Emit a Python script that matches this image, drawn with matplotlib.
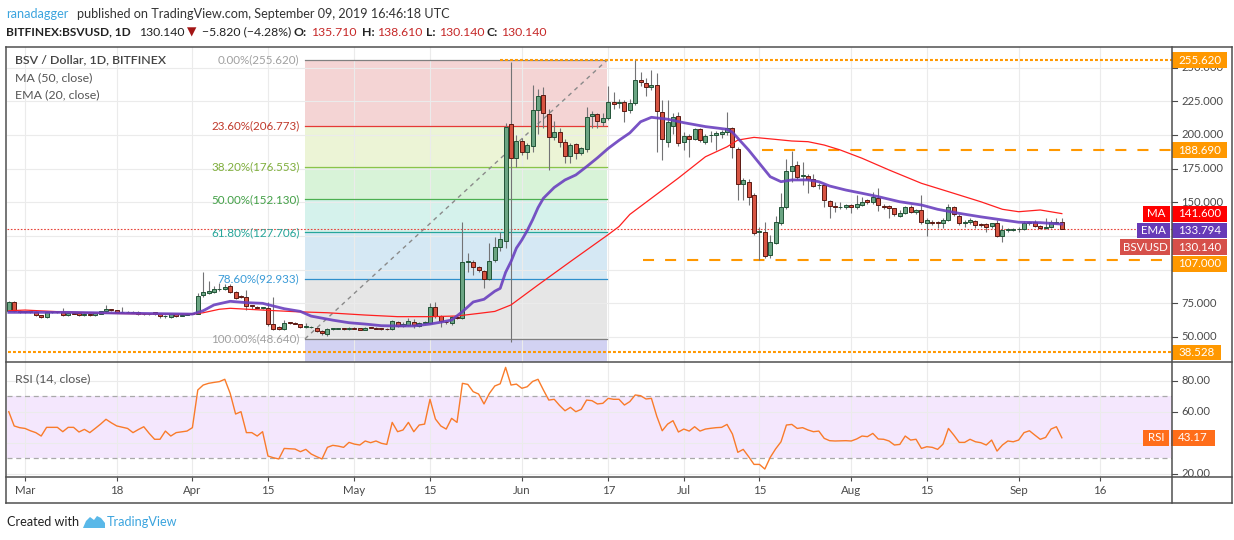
import datetime as dt

import matplotlib
import matplotlib.pyplot as plt
import matplotlib.dates as mdates
from matplotlib.lines import Line2D
from matplotlib.patches import Rectangle, Polygon
import numpy as np

matplotlib.use('Agg')
plt.rcParams['font.family'] = ['Lato', 'DejaVu Sans']

# ---- daily candles, BITFINEX:BSVUSD, 2019-02-26 .. 2019-09-09 (one row per month)
opens = [
    69.5, 76, 69.5,
    69, 68.7, 68.5, 66.3, 64.6, 68.3, 68.8, 68.3, 66.1, 67.8, 67.8, 66.1, 67.3, 66.1, 67.3, 69, 70.5, 70,
    68.5, 68.8, 68.5, 68.3, 67, 66.8, 68.3, 67, 65.3, 64.6, 67, 65.5, 66.5,
    67, 67.3, 81, 83, 83.7, 85.3, 85.4, 87.9, 83.7, 80.2, 80, 73.5, 72.5, 71.8, 71.8, 59.4, 57.7, 55.7,
    60.8, 60.5, 59.4, 57.5, 57.2, 56.9, 54.7, 52.5, 55.8, 56.3, 56.5, 55.7,
    56.8, 56.5, 55.5, 57.2, 57, 56.5, 56.2, 55.7, 61.4, 58.3, 59, 61.4, 58.2, 60.5, 60.2, 72, 65.6, 61.5,
    60.2, 64.8, 63.9, 105.5, 105.5, 101.8, 99.3, 93.1, 107.2, 117, 121.5, 208, 182.7,
    195.6, 187.6, 192, 218.5, 229.7, 215.3, 198.5, 202, 195, 184.4, 193, 186.4, 189.6, 213.8, 215.3,
    209.4, 212.3, 224.7, 223.7, 224.7, 218.5, 223.5, 241, 238.3, 235.8, 237, 216.8, 195, 206.6, 214,
    194.6, 199.3, 197.3, 204.2, 195, 199.7, 199.7, 200.6, 202, 205, 189.5, 163.4, 165.3, 155.4, 128,
    128.2, 110.9, 120, 134.9, 146.3, 173.5, 177.7, 169.5, 169.5, 167.1, 162.5, 162.8, 151, 147.2, 146.3,
    146.3,
    148, 146.3, 148.2, 151.7, 150.4, 153, 147.5, 147.5, 145.5, 140.1, 141.8, 146.8, 142.6, 144.3, 134.4,
    135.6, 135.2, 134.4, 136.9, 146.3, 140, 135, 135.2, 136.4, 134, 134, 132.4, 134.4, 125.2, 129.2, 129.8,
    129.9, 130.2, 134.8, 135.6, 132.4, 131.2, 131.5, 134.4, 135.71,
]
highs = [
    77, 76.5, 70,
    69.5, 69.5, 69, 66.5, 68.5, 69.3, 69.3, 71.5, 68.5, 68.3, 68.3, 67.8, 67.5, 68, 69.5, 73.8, 71, 70.3,
    72, 69.3, 69, 69.5, 67.5, 67.5, 68.5, 67.3, 66, 67, 67.3, 67, 68,
    68, 83, 98, 91.8, 88, 90, 89, 89, 84, 81, 85, 74, 73, 72.5, 76.2, 79.7, 58, 62.6,
    61.5, 61, 60, 60.3, 58.5, 57.5, 55.5, 57, 57, 57, 57, 57.5,
    57.2, 57, 57.5, 57.5, 57.3, 56.8, 56.5, 62.5, 62, 61, 63.9, 63.5, 61.5, 62, 75.5, 76, 66, 62,
    65.5, 65.5, 135.6, 112, 107, 103, 100, 119.6, 124.6, 128.3, 208.7, 254.5, 200,
    198, 194, 237.4, 234.4, 235.8, 219, 210, 205, 197, 194, 194, 191, 221, 218, 216,
    216, 236.3, 231.7, 227, 226, 226.5, 255.6, 247, 242, 248, 246, 226, 226, 216, 217,
    202, 201, 205, 205.5, 201, 203, 203, 204, 217, 206, 191, 168, 167, 157, 131.9,
    135.6, 126, 139.8, 157, 181.8, 188.3, 181, 180, 171, 171, 164, 163.5, 152, 150, 150,
    149,
    149, 155.4, 154, 152.5, 158, 160.4, 149, 148, 146, 144, 147, 148, 145, 155.4, 138,
    137, 136, 138, 149, 147, 141, 137, 138, 137, 135, 134.5, 135, 137, 133, 131, 131,
    132, 136, 136, 136.5, 133, 138, 137, 138, 138.61,
]
lows = [
    69, 68.5, 68,
    68, 68, 65.5, 64, 64.3, 67.8, 67.8, 65.8, 65.8, 67, 65.8, 65.8, 65.8, 65.8, 67, 68.5, 69.5, 68,
    68, 68, 67.5, 66.5, 66.3, 66.3, 66.5, 64, 63.8, 64.3, 65.2, 65.3, 66.3,
    66.8, 67, 79.5, 82, 83, 84.5, 85, 82.5, 78.5, 79, 70, 71, 71.5, 71, 58.5, 55.2, 55, 55,
    59.8, 59.5, 56.8, 57, 56.5, 54, 51.5, 50.7, 55.5, 56, 55.5, 55.5,
    56, 55, 55.2, 56.5, 56, 55.5, 55.5, 55.5, 57.5, 57.5, 58.5, 57, 57.5, 59.5, 59.5, 64, 57.7, 60,
    59, 63.5, 63.5, 98.5, 96, 98, 86.1, 92, 106, 114, 115.8, 46, 176,
    185, 182, 187.6, 201, 205, 174, 196, 191, 179, 179, 182, 185, 187, 205, 205,
    207, 211, 219.5, 220, 209.8, 216, 222, 236, 229, 233, 187.6, 181.4, 191, 201, 192,
    188.8, 183.8, 196, 195, 193, 195, 188.8, 198, 200, 182.7, 151.7, 152, 148, 126, 107.2,
    109, 109, 119, 133, 145, 165, 167, 163, 156.7, 161, 160, 146.3, 138, 143, 145,
    145,
    141.8, 145, 147, 148.5, 149, 143.8, 145, 138, 140, 139, 141, 142, 141, 134, 125,
    133, 131, 131, 136, 140, 133, 132, 134, 131, 132, 128, 131, 124, 120.7, 128, 129,
    128, 129.5, 133, 132, 130.5, 130.5, 131, 134, 130.14,
]
closes = [
    76, 69, 68.8,
    68.7, 69, 66.2, 64.6, 68.3, 68.8, 68.3, 66.1, 67.8, 67.3, 66.1, 67.3, 66.1, 67.5, 69, 70.5, 70, 68.5,
    68.8, 68.3, 67.8, 66.8, 66.8, 67, 66.8, 65.3, 65.5, 66.8, 65.5, 66.5, 67,
    67.6, 80.4, 83.4, 84, 85.4, 85.8, 87.4, 83.7, 79, 79.6, 73, 72.8, 71.8, 72, 59.4, 55.7, 55.7, 60.2,
    60.3, 60, 57.2, 57.9, 57.4, 54.7, 52.7, 55.7, 56.5, 56.5, 56, 57,
    56.3, 55.5, 57, 56.8, 56.3, 55.7, 55.7, 61.9, 58.2, 59.5, 61.9, 58.8, 60.7, 61, 72, 65.6, 61.9, 61,
    65, 64.3, 106, 106.2, 101.8, 99.7, 93.1, 106.6, 117, 122.6, 206, 182.7, 195.6,
    187.6, 192.5, 218.5, 229, 216, 198.5, 202, 194.5, 184.4, 192.5, 186.4, 190, 213, 215.3, 210.3,
    212.3, 224.7, 222.8, 224.2, 217.8, 223.5, 240.8, 239, 235.8, 237, 218, 196.7, 209.4, 213, 193.8,
    199.3, 197.3, 204.2, 196.2, 199.3, 200.3, 201.2, 202.4, 205, 191, 163.4, 166.6, 154.2, 127.4, 128.4,
    110.4, 120.3, 135.2, 146.7, 173.2, 176.9, 168.5, 170, 167.1, 162.2, 163, 151.7, 147.2, 146.3, 146.6,
    148,
    146.3, 148.7, 150.4, 150, 153.6, 148, 146.7, 145.5, 141.1, 141.8, 146.3, 143, 144.3, 135.2, 136.9,
    135, 134.4, 136.9, 146.3, 141.1, 134.4, 135.6, 136.9, 133.1, 133.1, 131.5, 134.4, 125.2, 129.2, 130.2, 130,
    130.3, 134.4, 135.2, 132.4, 131.2, 131.5, 135.2, 135.6, 130.14,
]

# RSI (14, close), one value per candle
rsi = [
    60, 50.8, 49.7,
    49.2, 47.7, 46.5, 44.3, 49.9, 49.9, 49.9, 47.1, 49.9, 49.9, 46.9, 48.6, 46.5, 49.2, 52, 55.1,
    52.8, 50.8, 50, 49.2, 46.5, 48.5, 50.3, 46, 42.2, 42.2, 47.5, 44.3, 46.5, 47, 47.5,
    49.7, 74, 77.2, 78.3, 78.9, 79.4, 80.9, 71.8, 58.5, 60, 46.5, 46.5, 44.3, 47.1, 31.4, 30.3, 29.5,
    36.3, 36.1, 35.9, 34.2, 35.7, 32.7, 31, 29.5, 37, 38.3, 37.8, 37, 40.2,
    39.1, 38.5, 41.1, 40, 41.1, 39.6, 38.9, 53.1, 47.1, 48.2, 53.1, 47.1, 51.4, 52, 68, 55.3, 50.8,
    48.8, 55.7, 53.1, 78.3, 77.6, 72.9, 71.4, 65, 71.8, 76.6, 78, 88.6, 77.2, 77.8,
    75.1, 76.1, 79.5, 80.9, 74, 67.5, 68, 64, 60.6, 62.8, 60, 61.5, 67.5, 67.1, 65, 65.4, 68.6,
    68, 68, 64.3, 66.5, 70.8, 70.3, 68.2, 68.6, 57, 47.7, 52, 54.2, 46.9,
    48.8, 47.5, 50.3, 47.5, 48.8, 49.3, 49.7, 49.9, 51.8, 45.6, 33.8, 35.7, 31, 26, 26, 23, 30.5,
    36, 40.6, 51.4, 51.8, 49.2, 49.7, 48.2, 47.1, 47.5, 42.8, 41.3, 41.1, 41.2, 41.3,
    41.1, 42.4, 44.3, 43.9, 46, 42.4, 42.2, 41.1, 38.5, 38.9, 44.3, 41.7, 42.2, 36.3, 37.4, 37,
    35.7, 39.1, 49.2, 44.9, 40.2, 40.2, 42.2, 40.6, 40, 38.5, 41.7, 34.6, 38.5, 41.1, 40.6,
    41.7, 46.5, 47.7, 44.9, 42.2, 43.4, 48.8, 50.3, 43.17,
]

# MA (50) and EMA (20), as (days after 1 March, value)
ma_days = [-3, 0, 6, 15, 24, 31, 33, 36, 38, 44, 50, 56, 63, 69, 75, 80, 84, 87, 90, 95, 101, 108,
           110, 112, 114, 117, 121, 126, 130, 132, 135, 139, 142, 145, 148, 151, 155, 160, 166, 171,
           177, 181, 184, 188, 192]
ma_vals = [69.5, 70, 68.8, 67.6, 67, 67, 68, 70.6, 71.3, 70, 68.8, 68, 66.3, 65.1, 65.1, 65.6, 67.5,
           69, 73.8, 88.6, 106, 126, 132, 141, 147, 156, 168, 183.8, 191.2, 196.2, 198.2, 196.7,
           195.5, 195, 192.5, 188.8, 182.7, 174, 164.1, 157.9, 150.4, 144.8, 143, 144.3, 141.6]
ema_days = [-3, 8, 20, 31, 33, 35, 38, 41, 44, 48, 51, 53, 57, 60, 63, 66, 69, 72, 75, 77, 79, 81,
            83, 85, 87, 88, 89, 90, 91, 92, 93, 94, 95, 96, 97, 98, 100, 102, 104, 106, 108, 110,
            112, 114, 116, 119, 122, 126, 130, 131, 132, 134, 136, 138, 140, 142, 145, 147, 149,
            152, 155, 158, 162, 166, 169, 173, 177, 181, 184, 188, 192]
ema_vals = [68.3, 68.3, 67.6, 67, 69.5, 73.8, 76.5, 75.5, 75, 71, 69, 65.5, 62.5, 60.6, 59.6, 58.4,
            58.2, 58.2, 59.6, 61, 62.6, 68.8, 76, 78, 84, 86.1, 98, 106, 116, 122, 129, 137, 146,
            153, 157, 161, 166.6, 170.3, 176.5, 183, 190, 196, 201.5, 209.8, 213.1, 211.7, 209.1,
            206.2, 204.2, 202, 197.6, 188.8, 178.9, 169, 165.3, 166.6, 166.6, 165.3, 162.1, 159.1,
            156.7, 154.2, 150.4, 148, 144.8, 141.8, 139.2, 136.9, 135.2, 134.9, 133.794]

# Fibonacci retracement drawn from 48.640 to 255.620
fib_labels = ['0.00%', '23.60%', '38.20%', '50.00%', '61.80%', '78.60%', '100.00%']
fib_levels = [255.620, 206.773, 176.553, 152.130, 127.706, 92.933, 48.640]
fib_start_day, fib_end_day = 51.85, 107.8

# horizontal levels (value, first day of the ray)
level_values = [255.620, 188.690, 107.000, 38.528]
level_start_days = [88, 136.5, 114.5, -4]

last_close, ma_last, ema_last, rsi_last = 130.140, 141.600, 133.794, 43.17

tick_dates = [dt.date(2019, 3, 1), dt.date(2019, 3, 18), dt.date(2019, 4, 1), dt.date(2019, 4, 15),
              dt.date(2019, 5, 1), dt.date(2019, 5, 15), dt.date(2019, 6, 1), dt.date(2019, 6, 17),
              dt.date(2019, 7, 1), dt.date(2019, 7, 15), dt.date(2019, 8, 1), dt.date(2019, 8, 15),
              dt.date(2019, 9, 1), dt.date(2019, 9, 16)]
tick_labels = ['Mar', '18', 'Apr', '15', 'May', '15', 'Jun', '17', 'Jul', '15', 'Aug', '15', 'Sep', '16']
price_ticks = [50, 75, 100, 125, 150, 175, 200, 225, 250]
price_labels_shown = [50, 75, 150, 175, 200, 225, 250]   # the rest sit under the value tags
rsi_ticks = [20, 40, 60, 80]
rsi_labels_shown = [20, 60, 80]

W, H = 1234, 540
GREEN, GREEN_EDGE = '#6ba583', '#225437'
RED, RED_EDGE = '#d75442', '#5b1a13'
ORANGE = '#ff9800'
FRAME = '#4f4f4f'
GRID = '#ebebeb'
AXIS_TEXT = '#4a4a4a'


def fx(x):
    return x / W


def fy(y):
    return 1 - y / H


def tag(axis, x0, x1, y, half, color, text, size=8.3):
    trans = axis.get_yaxis_transform()
    axis.add_patch(Rectangle((x0, y - half), x1 - x0, 2 * half, transform=trans, facecolor=color,
                             edgecolor='none', clip_on=False, zorder=20))
    axis.text((x0 + x1) / 2, y, text, transform=trans, ha='center', va='center', color='white',
              fontsize=size, clip_on=False, zorder=21)


fig = plt.figure(figsize=(W / 100, H / 100), dpi=100)
march_1 = mdates.date2num(dt.date(2019, 3, 1))
first_day = dt.date(2019, 2, 26)
days = mdates.date2num([first_day + dt.timedelta(days=i) for i in range(len(closes))])
xlim = (march_1 - 3.33, march_1 + 212.4)
ylim_main = (31.44, 265.29)
ylim_rsi = (17.87, 92.06)
tick_x = mdates.date2num(tick_dates)

# ---- main price panel
ax = fig.add_axes([fx(7), fy(362), (1172 - 7) / W, (362 - 47) / H])
ax.set_xlim(*xlim)
ax.set_ylim(*ylim_main)
ax.set_xticks(tick_x)
ax.set_yticks(price_ticks)
ax.tick_params(length=0, labelbottom=False, labelleft=False)
ax.grid(color=GRID, lw=0.8)
ax.set_axisbelow(True)
for s in ax.spines.values():
    s.set_visible(False)

# fibonacci retracement
fx0, fx1 = march_1 + fib_start_day, march_1 + fib_end_day
fib_line_colors = ['#808080', '#e53935', '#8bc34a', '#4caf50', '#26a69a', '#2f8fcc', '#808080']
fib_fill_colors = ['#f4d4d4', '#ecf4d6', '#d8f3d8', '#d5f2ec', '#d5e8f4', '#e6e6e6']
fib_text_colors = ['#a0a0a0', '#c0392b', '#7fae3c', '#43a047', '#26a69a', '#3a9bd7', '#a0a0a0']
for i in range(len(fib_levels) - 1):
    ax.fill_between([fx0, fx1], fib_levels[i + 1], fib_levels[i], color=fib_fill_colors[i],
                    lw=0, zorder=0.2)
ax.fill_between([fx0, fx1], ylim_main[0], fib_levels[-1], color='#d2d2f2', lw=0, zorder=0.2)
for lev, lab, lc, tc in zip(fib_levels, fib_labels, fib_line_colors, fib_text_colors):
    ax.plot([fx0, fx1], [lev, lev], color=lc, lw=0.9, zorder=2)
    ax.annotate(f'{lab}({lev:.3f})', xy=(fx0, lev), xytext=(-4, 0), textcoords='offset points',
                ha='right', va='center', fontsize=8.4, color=tc, zorder=6)
ax.plot([fx0, fx1], [fib_levels[-1], fib_levels[0]], color='#8a8a8a', lw=1, ls=(0, (3, 3)), zorder=2.5)

# horizontal levels
for val, start in zip(level_values, level_start_days):
    dotted = val in (255.620, 38.528)
    ax.plot([march_1 + start, xlim[1]], [val, val], color=ORANGE, lw=1.5,
            ls=(0, (1.4, 1.0)) if dotted else (0, (5.3, 5.3)), zorder=2.7)
ax.axhline(last_close, color='#e8443a', lw=0.8, ls=(0, (1.5, 1.5)), zorder=2.6)

# candles
o, h, lo, c = (np.array(a, dtype=float) for a in (opens, highs, lows, closes))
up = c >= o
ax.vlines(days, lo, h, color='#737375', lw=0.8, zorder=3)
body_lo = np.minimum(o, c)
body_h = np.maximum(np.abs(c - o), 0.4)
ax.bar(days[up], body_h[up], bottom=body_lo[up], width=0.72, color=GREEN, edgecolor=GREEN_EDGE,
       lw=0.7, zorder=4)
ax.bar(days[~up], body_h[~up], bottom=body_lo[~up], width=0.72, color=RED, edgecolor=RED_EDGE,
       lw=0.7, zorder=4)

# moving averages
ax.plot(march_1 + np.array(ma_days), ma_vals, color='#ff2020', lw=0.9, zorder=5)
ax.plot(march_1 + np.array(ema_days), ema_vals, color='#6a40bf', lw=2.0, zorder=5, alpha=0.9)

# left tags on the chart edge
edge = lambda px: (px - 7) / 1165
tag(ax, edge(1143), edge(1170), ma_last, 5.9, '#ff0000', 'MA')
tag(ax, edge(1137), edge(1170), 129.07, 5.9, '#673ab7', 'EMA')
tag(ax, edge(1120), edge(1170), 116.8, 5.9, '#d6504a', 'BSVUSD')

# ---- price scale
axp = fig.add_axes([fx(1172), fy(362), 60 / W, (362 - 47) / H])
axp.set_ylim(*ylim_main)
axp.axis('off')
ptrans = axp.get_yaxis_transform()
for v in price_ticks:
    axp.plot([0, 5 / 60], [v, v], color=AXIS_TEXT, lw=0.8, transform=ptrans)
for v in price_labels_shown:
    axp.text(9 / 60, v, f'{v:.3f}', transform=ptrans, ha='left', va='center', fontsize=8.1,
             color=AXIS_TEXT, clip_on=True)
full = 55 / 60
tag(axp, 0, full, 255.62, 5.9, ORANGE, '255.620')
tag(axp, 0, full, 188.69, 5.9, ORANGE, '188.690')
tag(axp, 0, full, ma_last, 5.9, '#ff0000', f'{ma_last:.3f}')
tag(axp, 0, full, 129.07, 5.9, '#673ab7', f'{ema_last:.3f}')
tag(axp, 0, full, 116.8, 5.9, '#d6504a', f'{last_close:.3f}')
tag(axp, 0, full, 104.2, 5.9, ORANGE, '107.000')
tag(axp, 0, 49 / 60, 38.528, 5.9, ORANGE, '38.528')

# ---- RSI panel
axr = fig.add_axes([fx(7), fy(477), (1172 - 7) / W, (477 - 362) / H])
axr.set_xlim(*xlim)
axr.set_ylim(*ylim_rsi)
axr.set_xticks(tick_x)
axr.set_xticklabels(tick_labels)
axr.set_yticks(rsi_ticks)
axr.tick_params(axis='y', length=0, labelleft=False)
axr.tick_params(axis='x', length=3, pad=3, color=AXIS_TEXT, labelcolor=AXIS_TEXT, labelsize=8.3)
axr.grid(color=GRID, lw=0.8)
axr.set_axisbelow(True)
for s in axr.spines.values():
    s.set_visible(False)
axr.axhspan(30, 70, color='#f4e7fd', lw=0, zorder=0.2)
for v in (30, 70):
    axr.axhline(v, color='#a9a9a9', lw=0.9, ls=(0, (4, 3)), zorder=1)
axr.plot(days, rsi, color='#f97b2a', lw=1.0, zorder=3)

axrp = fig.add_axes([fx(1172), fy(477), 60 / W, (477 - 362) / H])
axrp.set_ylim(*ylim_rsi)
axrp.axis('off')
rtrans = axrp.get_yaxis_transform()
for v in rsi_ticks:
    axrp.plot([0, 5 / 60], [v, v], color=AXIS_TEXT, lw=0.8, transform=rtrans, clip_on=True)
for v in rsi_labels_shown:
    axrp.text(9 / 60, v, f'{v:.2f}', transform=rtrans, ha='left', va='center', fontsize=8.1,
              color=AXIS_TEXT, clip_on=True)
tag(axr, edge(1143), edge(1169), rsi_last, 5.2, '#ff6d1a', 'RSI')
tag(axrp, -1 / 60, 43 / 60, rsi_last, 5.2, '#ff6d1a', f'{rsi_last:.2f}')

# ---- frame
for (x0, y0, x1, y1) in [(6, 47, 1232, 47), (6, 503, 1232, 503), (6, 47, 6, 503), (1232, 47, 1232, 503),
                         (1172, 47, 1172, 503), (6, 362, 1232, 362), (6, 477, 1232, 477)]:
    fig.add_artist(Line2D([fx(x0), fx(x1)], [fy(y0), fy(y1)], transform=fig.transFigure,
                          color=FRAME, lw=1.1))

# ---- legends
fig.text(fx(15), fy(60), 'BSV / Dollar, 1D, BITFINEX', fontsize=8.9, color='#444444',
         fontweight='semibold', va='center')
fig.text(fx(15), fy(78), 'MA (50, close)', fontsize=8.9, color='#555555', va='center')
fig.text(fx(15), fy(95), 'EMA (20, close)', fontsize=8.9, color='#555555', va='center')
fig.text(fx(15), fy(379), 'RSI (14, close)', fontsize=8.9, color='#555555', va='center')

# ---- header
fig.text(fx(6), fy(14), 'ranadagger', fontsize=9.1, color='#3ba4de', va='center')
fig.text(fx(77), fy(14), 'published on TradingView.com, September 09, 2019 16:46:18 UTC',
         fontsize=9.1, color='#333333', va='center')
header_runs = [(6, 'BITFINEX:BSVUSD, 1D', '#222222', 'bold', 8.6),
               (139, '130.140', '#222222', 'normal', 8.8),
               (187, '\u25bc', '#a31515', 'normal', 8.8),
               (202, '\u22125.820 (\u22124.28%)', '#222222', 'normal', 8.8),
               (293, 'O:', '#222222', 'bold', 8.8), (311, '135.710', '#c62828', 'normal', 8.8),
               (362, 'H:', '#222222', 'bold', 8.8), (377, '138.610', '#c62828', 'normal', 8.8),
               (426, 'L:', '#222222', 'bold', 8.8), (439, '130.140', '#c62828', 'normal', 8.8),
               (487, 'C:', '#222222', 'bold', 8.8), (501, '130.140', '#c62828', 'normal', 8.8)]
for x, s, col, wt, size in header_runs:
    fig.text(fx(x), fy(32), s, fontsize=size, color=col, fontweight=wt, va='center')

# ---- footer
fig.text(fx(7), fy(522), 'Created with', fontsize=9.1, color='#222222', va='center')
logo = [(83, 528), (86, 521), (90, 517), (94, 520), (97, 516), (101, 518), (105, 523), (105, 528)]
fig.add_artist(Polygon([(fx(x), fy(y)) for x, y in logo], closed=True, transform=fig.transFigure,
                       facecolor='#5ab8e8', edgecolor='none'))
fig.text(fx(107), fy(522), 'TradingView', fontsize=9.1, color='#3ba4de', va='center')

fig.savefig('out.png', dpi=100)
